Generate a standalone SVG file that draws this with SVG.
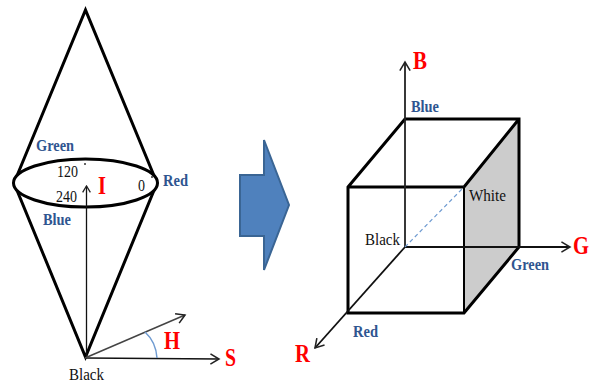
<svg xmlns="http://www.w3.org/2000/svg" width="594" height="382" viewBox="0 0 594 382">
<style>
text{font-family:"Liberation Serif","Times New Roman",serif;lengthAdjust:spacingAndGlyphs}
.lab{font-size:16px;font-weight:bold;fill:#2f5590}
.blk{font-size:16px;fill:#111}
.big{font-size:26px;font-weight:bold;fill:#f00}
.thick{fill:none;stroke:#000;stroke-width:3}
.thin{fill:none;stroke:#111;stroke-width:1.3}
</style>
<defs>
<marker id="open" markerUnits="userSpaceOnUse" markerWidth="12" markerHeight="12" refX="12" refY="7" orient="auto" viewBox="0 0 14 14"><path d="M2 1L12 7L2 13" fill="none" stroke="#222" stroke-width="1.800"/></marker>
<marker id="small" markerUnits="userSpaceOnUse" markerWidth="9" markerHeight="9" refX="12" refY="7" orient="auto" viewBox="0 0 14 14"><path d="M2 1L12 7L2 13" fill="none" stroke="#222" stroke-width="2"/></marker>
</defs>
<g id="cone">
<path class="thick" d="M14 183L85.500 10L157 183L85.500 357Z"/>
<ellipse cx="85.500" cy="183" rx="72" ry="24" fill="#fff" stroke="#000" stroke-width="3"/>
<circle cx="85" cy="164" r="1" fill="#333"/>
<circle cx="152" cy="177" r="1" fill="#333"/>
</g>
<g id="block-arrow">
<path d="M240 175H264V140L289 205L264 270V236H240Z" fill="#4f81bd" stroke="#3a6594" stroke-width="2"/>
</g>
<g id="cube">
<path d="M464 187L519 119V247L464 313Z" fill="#ccc"/>
<path class="thick" d="M348 187L405 119H519V247L464 313H348ZM348 187H464L519 119"/>
<path d="M464 187V313" fill="none" stroke="#000" stroke-width="2"/>
</g>
<g id="connectors">
<path class="thin" d="M86.500 357V186" marker-end="url(#small)"/>
<path d="M85 358L219 359" class="thin" stroke-width="1.500" marker-end="url(#open)"/>
<path d="M85 358L185 315" stroke="#444" stroke-width="1.500" fill="none" marker-end="url(#open)"/>
<path d="M145 332Q156 342 157 358" fill="none" stroke="#6f9bd1" stroke-width="1.500"/>
<path d="M405 247V62" stroke="#222" stroke-width="1.800" fill="none" marker-end="url(#open)"/>
<path d="M405 247H570" stroke="#111" stroke-width="2" fill="none" marker-end="url(#open)"/>
<path d="M405 247L315 348" stroke="#111" stroke-width="1.800" fill="none" marker-end="url(#open)"/>
<path d="M405 247L464 187" stroke="#6f9bd1" stroke-width="1.200" stroke-dasharray="4 3" fill="none"/>
</g>
<g id="labels">
<text class="lab" x="36" y="151" textLength="38" lengthAdjust="spacingAndGlyphs">Green</text>
<text class="lab" x="163" y="186" textLength="25" lengthAdjust="spacingAndGlyphs">Red</text>
<text class="lab" x="43" y="225" textLength="28" lengthAdjust="spacingAndGlyphs">Blue</text>
<text class="blk" x="57" y="177" textLength="21" lengthAdjust="spacingAndGlyphs">120</text>
<text class="blk" x="56" y="202" textLength="21" lengthAdjust="spacingAndGlyphs">240</text>
<text class="blk" x="138" y="191" textLength="7" lengthAdjust="spacingAndGlyphs">0</text>
<text class="big" x="98" y="194" textLength="8" lengthAdjust="spacingAndGlyphs">I</text>
<text class="big" x="164" y="349" textLength="16" lengthAdjust="spacingAndGlyphs">H</text>
<text class="big" x="225" y="366" textLength="11" lengthAdjust="spacingAndGlyphs">S</text>
<text class="blk" x="69" y="380" textLength="35" lengthAdjust="spacingAndGlyphs">Black</text>
<text class="big" x="413" y="69" textLength="14" lengthAdjust="spacingAndGlyphs">B</text>
<text class="lab" x="411" y="112" textLength="28" lengthAdjust="spacingAndGlyphs">Blue</text>
<text class="blk" x="469" y="201" textLength="37" lengthAdjust="spacingAndGlyphs">White</text>
<text class="blk" x="365" y="245" textLength="35" lengthAdjust="spacingAndGlyphs">Black</text>
<text class="big" x="573" y="254" textLength="16" lengthAdjust="spacingAndGlyphs">G</text>
<text class="lab" x="511" y="270" textLength="38" lengthAdjust="spacingAndGlyphs">Green</text>
<text class="lab" x="353" y="337" textLength="25" lengthAdjust="spacingAndGlyphs">Red</text>
<text class="big" x="295" y="362" textLength="15" lengthAdjust="spacingAndGlyphs">R</text>
</g>
</svg>
